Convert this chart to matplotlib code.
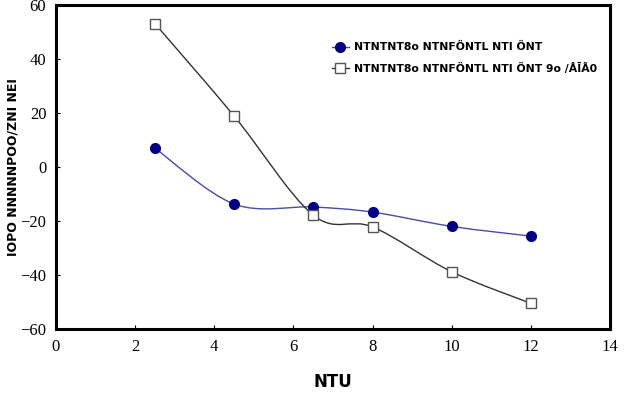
import numpy as np
import matplotlib
matplotlib.use("Agg")
import matplotlib.pyplot as plt
from matplotlib.path import Path
from matplotlib.patches import PathPatch

# data
x_vals = [2.5, 4.5, 6.5, 8.0, 10.0, 12.0]
series_a = [7.0, -13.7, -14.8, -16.7, -22.0, -25.6]
series_b = [53.1, 18.9, -17.8, -22.2, -38.8, -50.5]
label_a = "NTNTNT8o NTNFÖNTL NTI ÖNT"
label_b = "NTNTNT8o NTNFÖNTL NTI ÖNT 9o /ÅĪÃ0"
x_label = "NTU"
y_label = "IOPO NNNNNPOO/ZNI NEI"
x_ticks = [0, 2, 4, 6, 8, 10, 12, 14]
y_ticks = [-60, -40, -20, 0, 20, 40, 60]


def smooth_path(xs, ys, t=1.0 / 6):
    """Catmull-Rom style smoothed path through the points (like Excel's smoothed line)."""
    pts = np.column_stack([xs, ys])
    n = len(pts)
    verts = [pts[0]]
    codes = [Path.MOVETO]
    for i in range(n - 1):
        p0 = pts[i - 1] if i > 0 else pts[i]
        p1 = pts[i]
        p2 = pts[i + 1]
        p3 = pts[i + 2] if i + 2 < n else pts[i + 1]
        c1 = p1 + (p2 - p0) * t
        c2 = p2 - (p3 - p1) * t
        verts += [c1, c2, p2]
        codes += [Path.CURVE4] * 3
    return Path(verts, codes)


fig = plt.figure(figsize=(6.24, 4.04), dpi=100)
ax = fig.add_axes([0.0897, 0.1856, 0.8879, 0.802])

ax.add_patch(PathPatch(smooth_path(x_vals, series_a), facecolor="none",
                       edgecolor="#4a4aa8", lw=1.0, zorder=2))
ax.add_patch(PathPatch(smooth_path(x_vals, series_b), facecolor="none",
                       edgecolor="#333333", lw=1.0, zorder=2))

ax.plot(x_vals, series_a, ls="none", marker="o", ms=7, mfc="#000080",
        mec="#000080", zorder=3)
ax.plot(x_vals, series_b, ls="none", marker="s", ms=7, mfc="white",
        mec="#555555", mew=1.0, zorder=3)

# legend handles (line + marker)
ax.plot([], [], color="#4a4aa8", lw=1.0, marker="o", ms=7, mfc="#000080",
        mec="#000080", label=label_a)
ax.plot([], [], color="#333333", lw=1.0, marker="s", ms=7, mfc="white",
        mec="#555555", label=label_b)
leg = ax.legend(loc="upper left", bbox_to_anchor=(0.48, 0.915), frameon=False,
                handlelength=1.6, handletextpad=0.5, labelspacing=1.0,
                prop={"family": "DejaVu Sans", "weight": "bold", "size": 7.8})

ax.set_xlim(0, 14)
ax.set_ylim(-60, 60)
ax.set_xticks(x_ticks)
ax.set_yticks(y_ticks)
ax.tick_params(direction="in", length=3, width=0.8, labelsize=12, pad=7)
for lab in ax.get_xticklabels() + ax.get_yticklabels():
    lab.set_family("Liberation Serif")
for s in ax.spines.values():
    s.set_linewidth(2.2)

ax.set_xlabel(x_label, family="DejaVu Sans", fontweight="bold", fontsize=12)
ax.xaxis.set_label_coords(0.5, -0.135)
ax.set_ylabel(y_label, family="DejaVu Sans", fontweight="bold", fontsize=9)
ax.yaxis.set_label_coords(-0.065, 0.5)

fig.savefig("out.png", dpi=100)
